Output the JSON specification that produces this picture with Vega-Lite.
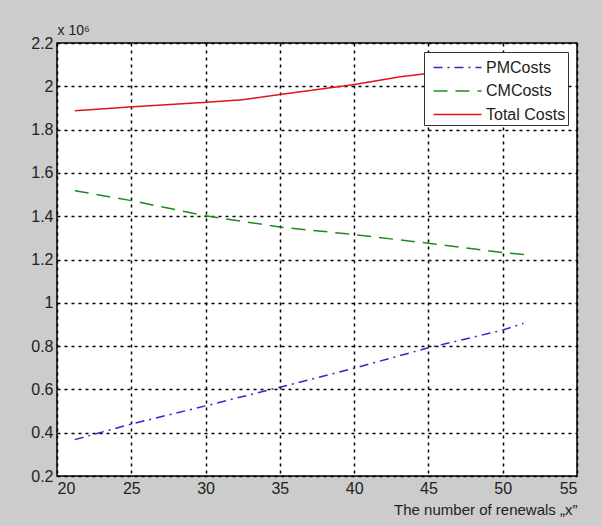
{
  "$schema": "https://vega.github.io/schema/vega-lite/v6.json",
  "width": 520,
  "height": 433,
  "autosize": {"type": "none"},
  "padding": {"left": 57, "top": 43, "right": 25, "bottom": 50},
  "background": "#cccccc",
  "config": {
    "font": "Liberation Sans",
    "view": {"fill": "white", "stroke": "black", "strokeWidth": 1.5}
  },
  "data": {
    "values": [
      {"x": 21.2, "y": 0.368, "series": "PMCosts"},
      {"x": 25, "y": 0.44, "series": "PMCosts"},
      {"x": 30, "y": 0.524, "series": "PMCosts"},
      {"x": 35, "y": 0.61, "series": "PMCosts"},
      {"x": 40, "y": 0.698, "series": "PMCosts"},
      {"x": 45, "y": 0.792, "series": "PMCosts"},
      {"x": 50, "y": 0.874, "series": "PMCosts"},
      {"x": 51.4, "y": 0.905, "series": "PMCosts"},
      {"x": 21.2, "y": 1.518, "series": "CMCosts"},
      {"x": 25, "y": 1.472, "series": "CMCosts"},
      {"x": 30, "y": 1.402, "series": "CMCosts"},
      {"x": 35, "y": 1.35, "series": "CMCosts"},
      {"x": 40, "y": 1.315, "series": "CMCosts"},
      {"x": 45, "y": 1.275, "series": "CMCosts"},
      {"x": 50, "y": 1.232, "series": "CMCosts"},
      {"x": 51.7, "y": 1.222, "series": "CMCosts"},
      {"x": 21.2, "y": 1.887, "series": "Total Costs"},
      {"x": 25, "y": 1.905, "series": "Total Costs"},
      {"x": 30, "y": 1.926, "series": "Total Costs"},
      {"x": 32.5, "y": 1.938, "series": "Total Costs"},
      {"x": 35, "y": 1.962, "series": "Total Costs"},
      {"x": 40, "y": 2.008, "series": "Total Costs"},
      {"x": 43, "y": 2.043, "series": "Total Costs"},
      {"x": 45, "y": 2.06, "series": "Total Costs"},
      {"x": 50, "y": 2.1, "series": "Total Costs"},
      {"x": 51.7, "y": 2.115, "series": "Total Costs"}
    ]
  },
  "mark": {"type": "line", "strokeWidth": 1.5},
  "encoding": {
    "x": {
      "field": "x", "type": "quantitative",
      "scale": {"domain": [20, 55], "nice": false, "zero": false},
      "axis": {
        "values": [20, 25, 30, 35, 40, 45, 50, 55],
        "title": "The number of renewals „x”",
        "titleAnchor": "end",
        "titleFontWeight": "normal",
        "titleFontSize": 15,
        "titleColor": "#222222",
        "titlePadding": 6,
        "labelFontSize": 16,
        "labelColor": "#222222",
        "labelPadding": 4,
        "ticks": false,
        "domain": false,
        "grid": true,
        "gridColor": "black",
        "gridDash": [3, 4],
        "gridWidth": 1.5,
        "gridOpacity": 1
      }
    },
    "y": {
      "field": "y", "type": "quantitative",
      "scale": {"domain": [0.2, 2.2], "nice": false, "zero": false},
      "axis": {
        "values": [0.2, 0.4, 0.6, 0.8, 1, 1.2, 1.4, 1.6, 1.8, 2, 2.2],
        "format": "~g",
        "title": "x 10⁶",
        "titleAngle": 0,
        "titleX": 0,
        "titleY": -6,
        "titleAlign": "left",
        "titleBaseline": "bottom",
        "titleFontWeight": "normal",
        "titleFontSize": 14,
        "titleColor": "#222222",
        "labelFontSize": 16,
        "labelColor": "#222222",
        "labelPadding": 4,
        "ticks": false,
        "domain": false,
        "grid": true,
        "gridColor": "black",
        "gridDash": [3, 4],
        "gridWidth": 1.5,
        "gridOpacity": 1
      }
    },
    "color": {
      "field": "series", "type": "nominal",
      "scale": {"domain": ["PMCosts", "CMCosts", "Total Costs"], "range": ["#2a2ad0", "#1f8a1f", "#e01414"]},
      "legend": {
        "title": null,
        "orient": "none",
        "legendX": 367,
        "legendY": 9,
        "fillColor": "white",
        "strokeColor": "#333333",
        "padding": 2,
        "rowPadding": 1.5,
        "symbolType": "M-1.92,0H1.92",
        "symbolSize": 625,
        "symbolOffset": 18,
        "symbolStrokeWidth": 1.5,
        "labelFontSize": 16,
        "labelColor": "#222222",
        "labelOffset": 15
      }
    },
    "strokeDash": {
      "field": "series", "type": "nominal",
      "scale": {"domain": ["PMCosts", "CMCosts", "Total Costs"], "range": [[9, 5, 2, 5], [14, 8], [1, 0]]},
      "legend": null
    }
  }
}
